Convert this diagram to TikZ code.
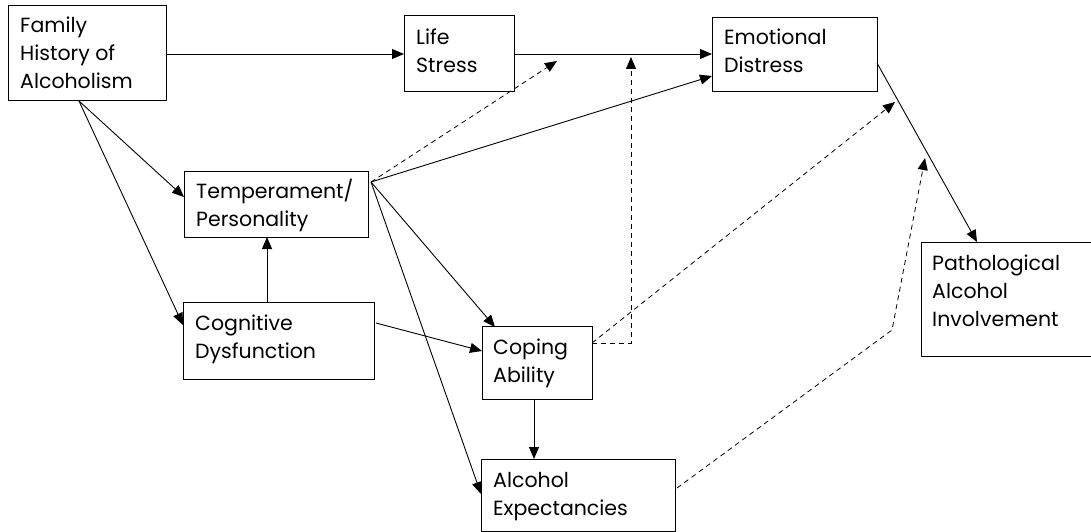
\documentclass[tikz,border=0pt]{standalone}
\usepackage{fontspec}
\setmainfont{Poppins}
\usetikzlibrary{calc,arrows.meta}

\tikzset{
  box/.style={draw, line width=1pt, anchor=north west, inner sep=0pt, outer sep=0pt},
  lbl/.style={anchor=base west, inner sep=0pt, font=\fontsize{20.5}{28}\selectfont},
  arr/.style={line width=0.9pt, -{Triangle[length=12pt,width=10pt]}},
  dasharr/.style={line width=0.8pt, dash pattern=on 5pt off 4pt, -{Triangle[length=12pt,width=10pt]}}
}
\newcommand{\lines}[1]{\begin{tabular}[t]{@{}l@{}}#1\end{tabular}}

\begin{document}
\begin{tikzpicture}[x=1pt,y=-1pt]
\useasboundingbox (0,0) rectangle (1091,532);

% boxes
\node[box, minimum width=158pt, minimum height=95pt] (fam) at (8,6) {};
\node[box, minimum width=110pt, minimum height=76pt] (ls) at (404,16) {};
\node[box, minimum width=165pt, minimum height=74pt] (ed) at (712,18) {};
\node[box, minimum width=184pt, minimum height=66pt] (tp) at (184,171) {};
\node[box, minimum width=191pt, minimum height=77pt] (cd) at (183,302) {};
\node[box, minimum width=110pt, minimum height=73pt] (ca) at (482,326) {};
\node[box, minimum width=194pt, minimum height=72pt] (ae) at (481,459) {};
\node[box, minimum width=172pt, minimum height=114pt] (pa) at (921,242) {};

% labels
\node[lbl] (famt) at ($(fam.north west)+(12,27)$) {\lines{Family\\History of\\Alcoholism}};
\node[lbl] (lst) at ($(ls.north west)+(12,29)$) {\lines{Life\\Stress}};
\node[lbl] (edt) at ($(ed.north west)+(12,27)$) {\lines{Emotional\\Distress}};
\node[lbl] (tpt) at ($(tp.north west)+(12,27)$) {\lines{Temperament/\\Personality}};
\node[lbl] (cdt) at ($(cd.north west)+(12,28)$) {\lines{Cognitive\\Dysfunction}};
\node[lbl] (cat) at ($(ca.north west)+(11,28)$) {\lines{Coping\\Ability}};
\node[lbl] (aet) at ($(ae.north west)+(12,28)$) {\lines{Alcohol\\Expectancies}};
\node[lbl] (pat) at ($(pa.north west)+(11,28)$) {\lines{Pathological\\Alcohol\\Involvement}};

% connection points
\coordinate (famout) at ($(fam.south west)+(71,0)$);
\coordinate (tpout) at ($(tp.north east)+(3,11)$);
\coordinate (caout) at ($(ca.north east)+(0,17)$);
\coordinate (aeout) at ($(ae.north east)+(2,29)$);
\coordinate (edout) at ($(ed.north east)+(0,45)$);
\coordinate (stressmid) at (557,61);
\coordinate (stressjoin) at (631,57);
\coordinate (distressjoin) at (895,102);
\coordinate (bend) at (892,330);
\coordinate (involvejoin) at (925,158);

% solid paths
\draw[arr] (fam.east |- ls.west) -- (ls.west);
\draw[arr] (ls.east) -- (ls.east -| ed.west);
\draw[arr] (famout) -- ($(tp.north west)+(0,26)$);
\draw[arr] (famout) -- ($(cd.north west)+(0,23)$);
\draw[arr] ($(cd.north west)+(84,0)$) -- ($(tp.south west)+(83,0)$);
\draw[arr] (tpout) -- ($(ed.north west)+(0,58)$);
\draw[arr] (tpout) -- ($(ca.north west)+(13,1)$);
\draw[arr] (tpout) -- ($(ae.north west)+(0,35)$);
\draw[arr] ($(cd.north east)+(2,21)$) -- ($(ca.north west)+(0,25)$);
\draw[arr] ($(ca.south west)+(52,0)$) -- ($(ae.north west)+(53,0)$);
\draw[arr] (edout) -- ($(pa.north west)+(56,0)$);

% dashed paths
\draw[dasharr] (tpout) -- (stressmid);
\draw[dasharr] (caout) -| (stressjoin);
\draw[dasharr] (caout) -- (distressjoin);
\draw[dasharr] (aeout) -- (bend) -- (involvejoin);
\end{tikzpicture}
\end{document}
